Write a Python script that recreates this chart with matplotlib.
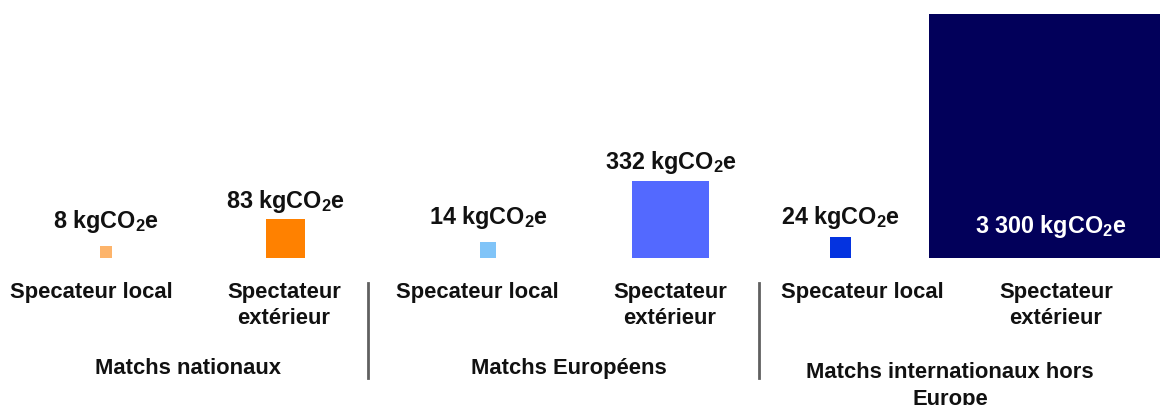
import numpy as np
import matplotlib
matplotlib.use("Agg")
import matplotlib.pyplot as plt

plt.rcParams['font.family'] = ['Liberation Sans', 'DejaVu Sans']
plt.rcParams['font.weight'] = 'bold'
plt.rcParams['mathtext.fontset'] = 'custom'
plt.rcParams['mathtext.rm'] = 'Liberation Sans:bold'
plt.rcParams['mathtext.bf'] = 'Liberation Sans:bold'

# data
groups = ["Matchs nationaux", "Matchs Européens", "Matchs internationaux hors\nEurope"]
categories = ["Specateur local", "Spectateur\nextérieur"] * 3
values = [8, 83, 14, 332, 24, 3300]
value_labels = ["8", "83", "14", "332", "24", "3 300"]
colors = ["#FDB46B", "#FF8100", "#80C4F8", "#5369FF", "#0433E0", "#02005A"]

# layout (pixel units, y measured from bottom)
W, H = 1160, 405
scale = 4.25                      # side in px per sqrt(kgCO2e)
base = H - 258
square_x = [106, 285.5, 488, 670.5, 840.5, 1051]
label_gap = [24, 18, 25, 18, 20]
cat_x = [91, 284, 477, 670, 862, 1056]
group_x = [188, 569, 950]
group_top = [358, 358, 362]
sep_x = [367.5, 759]

sides = scale * np.sqrt(values)

fig = plt.figure(figsize=(W / 100, H / 100), dpi=100)
ax = fig.add_axes([0, 0, 1, 1])
ax.set_xlim(0, W)
ax.set_ylim(0, H)
ax.axis('off')

ax.bar(square_x, sides, width=sides, bottom=base, color=colors, align='center')

for i, (x, s, lab) in enumerate(zip(square_x, sides, value_labels)):
    txt = lab + " kgCO$_2$e"
    if i == len(values) - 1:
        ax.text(x, H - 227, txt, color='white', fontsize=16.8, ha='center', va='center')
    else:
        ax.text(x, base + s + label_gap[i], txt, color='#111111', fontsize=16.8,
                ha='center', va='center')

for x, c in zip(cat_x, categories):
    ax.text(x, H - 282, c, color='#111111', fontsize=15.8, ha='center', va='top',
            linespacing=1.32)

for x, t, g in zip(group_x, group_top, groups):
    ax.text(x, H - t, g, color='#111111', fontsize=15.8, ha='center', va='top',
            linespacing=1.4)

for x in sep_x:
    ax.plot([x, x], [H - 283, H - 378], color='#606060', lw=2)

fig.savefig('out.png', dpi=100)
